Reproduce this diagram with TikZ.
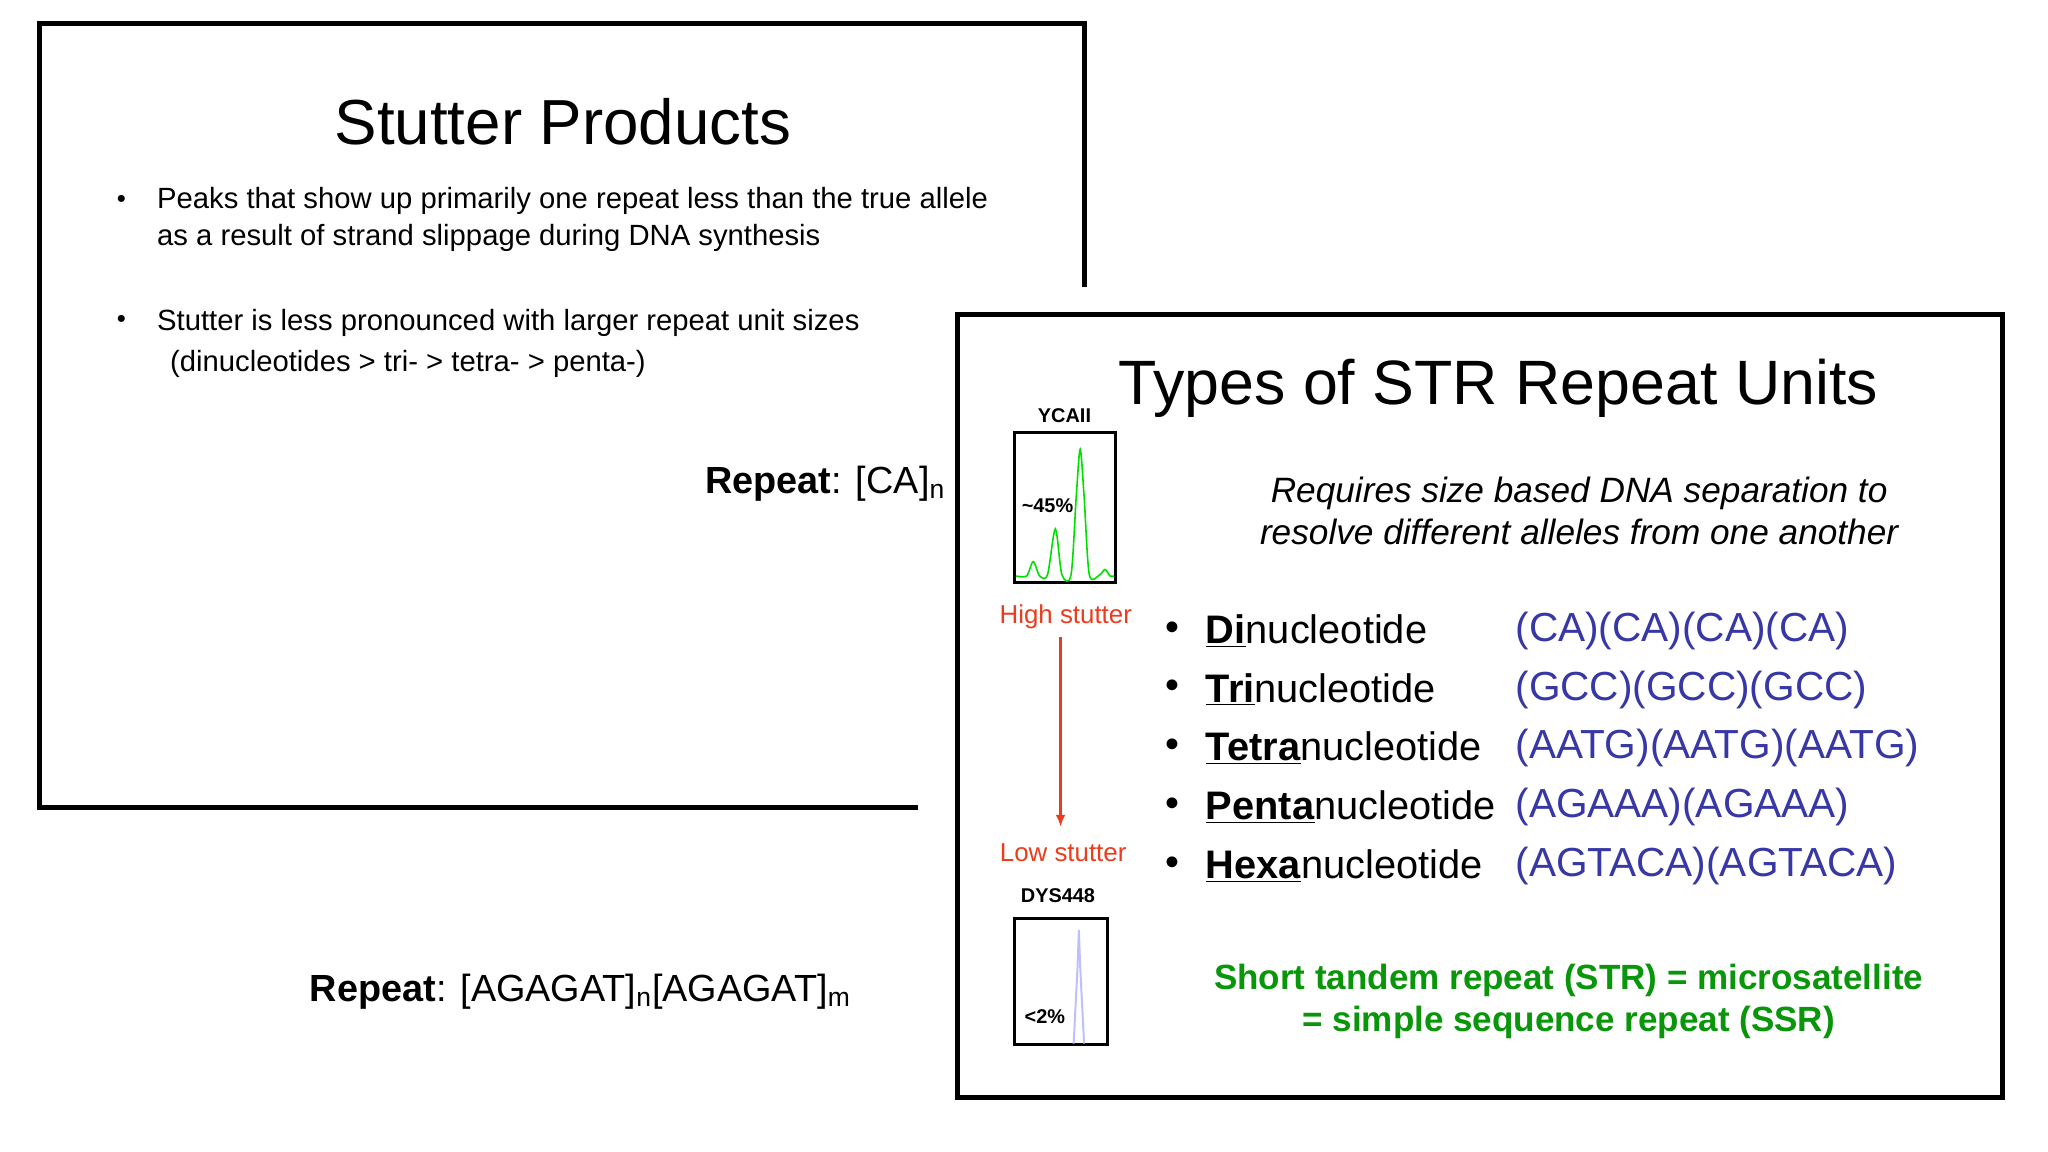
\documentclass[tikz,border=0pt]{standalone}
\usepackage{fontspec}
\setmainfont{Liberation Sans}
\usetikzlibrary{arrows.meta}
\begin{document}
\begin{tikzpicture}[x=0.6564pt,y=-0.6564pt,
  box/.style={line width=2.6pt},
  txt/.style={inner sep=0pt},
  seq/.style={inner sep=0pt,anchor=west,text=seqblue,font=\fontsize{20.4}{24}\selectfont},
  nuc/.style={inner sep=0pt,anchor=west,font=\fontsize{20}{24}\selectfont},
  bul/.style={inner sep=0pt,font=\fontsize{20}{24}\selectfont}]
\definecolor{seqblue}{RGB}{55,55,165}
\definecolor{stred}{RGB}{235,60,30}
\definecolor{stgreen}{RGB}{10,150,10}
\useasboundingbox (0,0) rectangle (1568,882);
% left slide
\draw[box] (703,618) -- (30,618) -- (30,18) -- (830,18) -- (830,220);
\node[txt] (t1) at (431,93) {\fontsize{32}{38}\selectfont Stutter Products};
\node[txt] (b1) at (93,154) {\fontsize{13}{16}\selectfont •};
\node[txt,anchor=west,align=left,font=\fontsize{14.7}{18.5}\selectfont] (p1) at (120,168) {Peaks that show up primarily one repeat less than the true allele\\as a result of strand slippage during DNA synthesis};
\node[txt] (b2) at (93,246) {\fontsize{13}{16}\selectfont •};
\node[txt,anchor=west] (p2) at (120,247) {\fontsize{14.7}{17}\selectfont Stutter is less pronounced with larger repeat unit sizes};
\node[txt,anchor=west] (p3) at (130,279) {\fontsize{14.7}{17}\selectfont (dinucleotides > tri- > tetra- > penta-)};
\node[txt,anchor=base east] (r1) at (724,378) {\fontsize{19}{22}\selectfont \textbf{Repeat}: [CA]$_{\mathrm{n}}$};
\node[txt,anchor=base west] (r2) at (237,767) {\fontsize{19}{22}\selectfont \textbf{Repeat}: [AGAGAT]$_{\mathrm{n}}$[AGAGAT]$_{\mathrm{m}}$};
% right slide
\draw[box,fill=white] (733,241) rectangle (1533,840);
\node[txt] (t2) at (1147,297) {\fontsize{31.5}{36}\selectfont Types of STR Repeat Units};
\node[txt,align=center,font=\fontsize{17.7}{21}\selectfont\itshape] (it) at (1209,391) {Requires size based DNA separation to\\resolve different alleles from one another};
\foreach \y/\a/\b/\s in {483/Di/nucleotide/(CA)(CA)(CA)(CA),528/Tri/nucleotide/(GCC)(GCC)(GCC),573/Tetra/nucleotide/(AATG)(AATG)(AATG),618/Penta/nucleotide/(AGAAA)(AGAAA),663/Hexa/nucleotide/(AGTACA)(AGTACA)}{
  \node[bul] (bl\y) at (898,\y) {•};
  \node[nuc] (n\y) at (923,\y) {\underline{\textbf{\a}}\b};
  \node[seq] (s\y) at (1160,\y) {\s};
}
\node[txt,align=center,text=stgreen,font=\fontsize{17.6}{21}\selectfont\bfseries] (g) at (1201,767) {Short tandem repeat (STR) = microsatellite\\= simple sequence repeat (SSR)};
% YCAII chart
\node[txt] (yl) at (815,318) {\fontsize{10}{12}\selectfont\bfseries YCAII};
\draw[line width=1.5pt] (777,331) rectangle (854,446);
\draw[green!75!black!50!green,line width=0.8pt] plot[smooth] coordinates {(778,441)(786,441)(791,430)(796,441)(802,440)(808,405)(813,440)(820,440)(824,380)(827,344)(830,380)(834,440)(842,440)(846,436)(850,441)(853,441)};
\node[txt] (yp) at (802,387) {\fontsize{10}{12}\selectfont\bfseries\textasciitilde45\%};
\node[txt,text=stred] (hs) at (816,472) {\fontsize{13}{16}\selectfont High stutter};
\node[txt,text=stred] (ls) at (814,653) {\fontsize{13}{16}\selectfont Low stutter};
\draw[stred,line width=1.3pt,-{Latex[length=6pt,width=5pt]}] (812,488) -- (812,633);
% DYS448 chart
\node[txt] (dl) at (810,686) {\fontsize{10}{12}\selectfont\bfseries DYS448};
\draw[line width=1.5pt] (777,703) rectangle (848,800);
\draw[blue!25,line width=1pt] (822,799) -- (825,740) -- (826,712) -- (827,740) -- (830,799);
\node[txt] (dp) at (800,778) {\fontsize{10}{12}\selectfont\bfseries <2\%};
\end{tikzpicture}
\end{document}
